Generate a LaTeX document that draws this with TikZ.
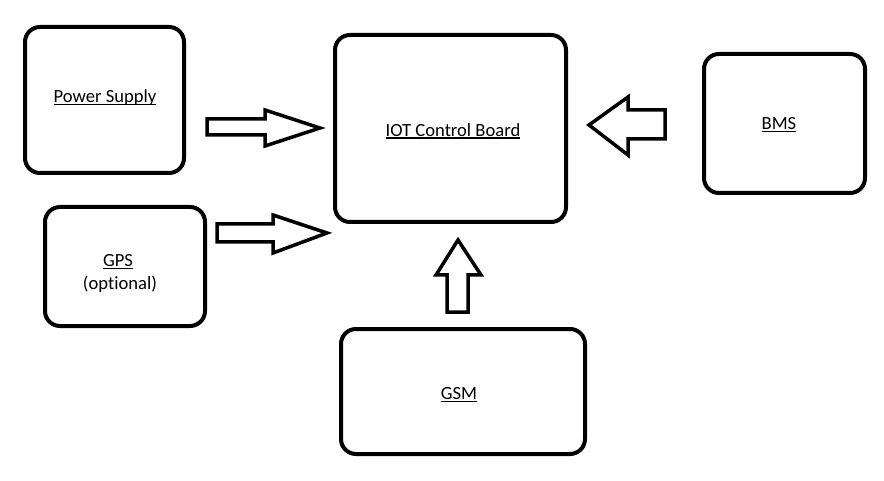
\documentclass[tikz,border=0pt]{standalone}
\usepackage{fontspec}
\setmainfont[Ligatures=NoCommon]{Carlito}
\newcommand\uln[1]{\setbox0\hbox{#1}\rlap{\rule[-2.2pt]{\wd0}{1.4pt}}\box0}
\begin{document}
\begin{tikzpicture}[x=1pt,y=-1pt,
  blk/.style={draw,line width=4pt,rounded corners=15pt},
  lbl/.style={font=\fontsize{18.6}{22}\selectfont,align=center,inner sep=0pt},
  barrow/.style={draw,line width=3.5pt,line join=miter,fill=white}]
\useasboundingbox (0,0) rectangle (884,481);
% boxes
\draw[blk] (25,27) rectangle (184,173);
\draw[blk] (45,207) rectangle (205,326);
\draw[blk] (335,35) rectangle (566,222);
\draw[blk] (704,54) rectangle (865,193);
\draw[blk] (341,329) rectangle (585,454);
% labels
\node[lbl] (ps) at (105,98) {\uln{Power Supply}};
\node[lbl] (gps) at (118,262) {\uln{GPS}};
\node[lbl] (opt) at (120,284) {(optional)};
\node[lbl] (iot) at (453,131) {\uln{IOT Control Board}};
\node[lbl] (bms) at (779,125) {\uln{BMS}};
\node[lbl] (gsm) at (459,395) {\uln{GSM}};
% block arrows
\draw[barrow] (207,119) -- (265,119) -- (265,110) -- (320,128) -- (265,146) -- (265,135) -- (207,135) -- cycle;
\draw[barrow] (217,224) -- (273,224) -- (273,215) -- (327,233) -- (273,253) -- (273,242) -- (217,242) -- cycle;
\draw[barrow] (665,110) -- (628,110) -- (628,97) -- (589,125) -- (628,155) -- (628,139) -- (665,139) -- cycle;
\draw[barrow] (447,312) -- (447,275) -- (436,275) -- (458,240) -- (481,275) -- (468,275) -- (468,312) -- cycle;
\end{tikzpicture}
\end{document}
